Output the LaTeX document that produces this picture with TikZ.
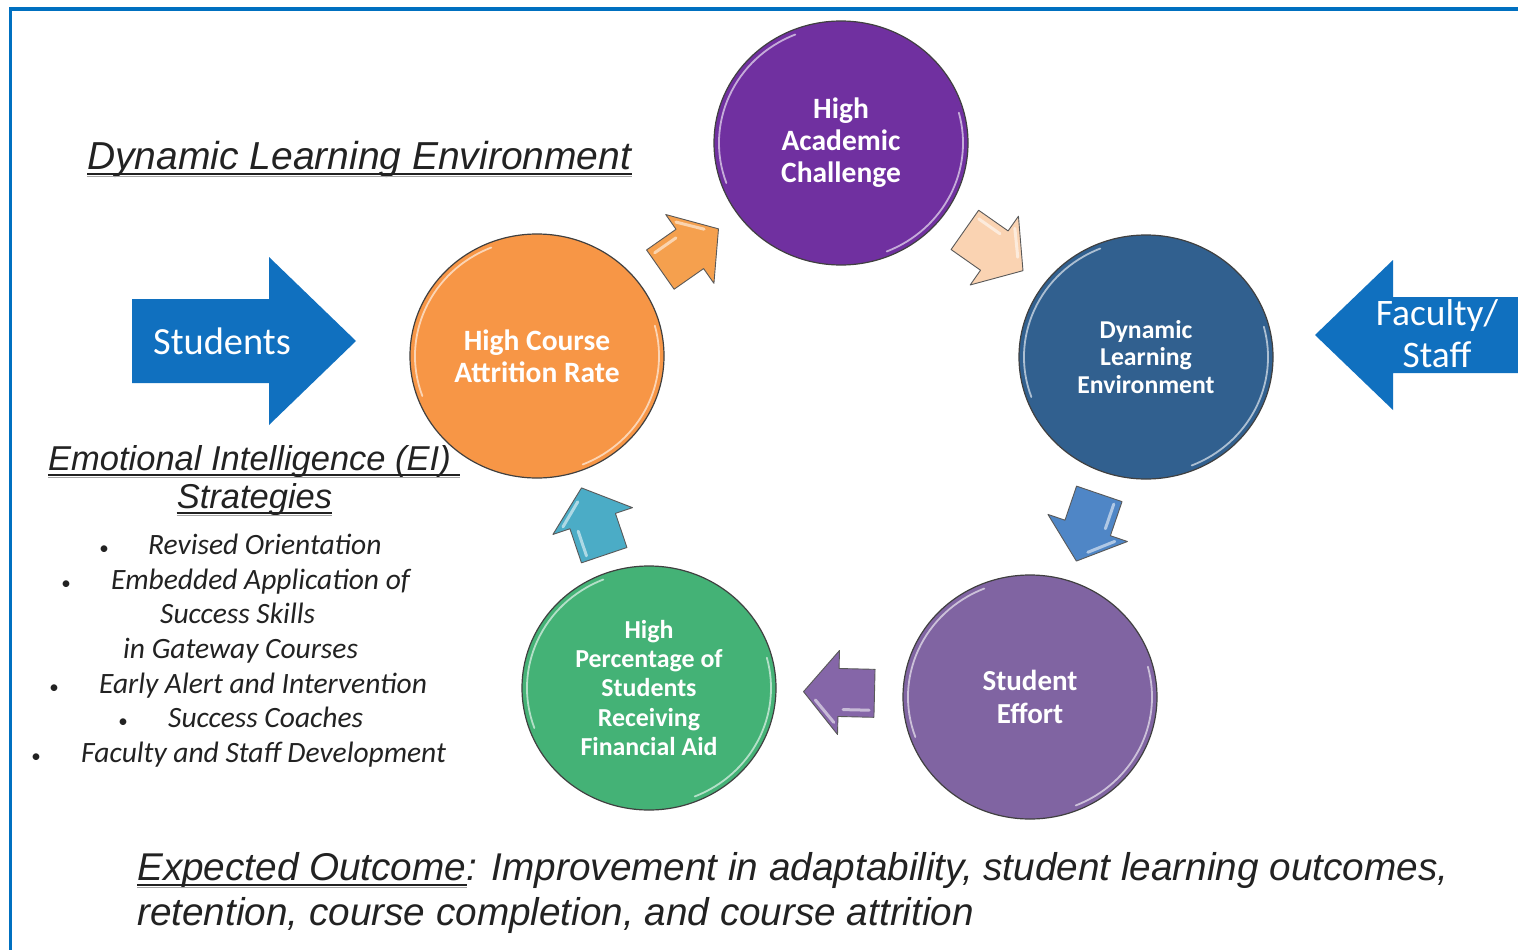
\documentclass[tikz,border=0pt]{standalone}
\usepackage{fontspec}
\usetikzlibrary{calc,shapes.geometric}
\newfontfamily\calfont{Carlito}
\newfontfamily\arialfont{Liberation Sans}

\definecolor{frameblue}{HTML}{0070C0}
\definecolor{bigblue}{HTML}{1070BF}
\definecolor{cpurple}{HTML}{7030A0}
\definecolor{corange}{HTML}{F79646}
\definecolor{cnavy}{HTML}{31608F}
\definecolor{cviolet}{HTML}{8064A2}
\definecolor{cgreen}{HTML}{44B276}
\definecolor{aorange}{HTML}{F5A04E}
\definecolor{apeach}{HTML}{FAD3B2}
\definecolor{ablue}{HTML}{4F86C6}
\definecolor{aviolet}{HTML}{8566A8}
\definecolor{ateal}{HTML}{4BACC6}
\definecolor{inkgray}{HTML}{222222}

\tikzset{
  bubble/.style={ellipse, minimum width=254, minimum height=244, inner sep=0,
    draw=black!75, line width=1.2pt, text=white, align=center,
    font=\calfont\bfseries\fontsize{29.5}{32}\selectfont},
  rim/.style={draw=white, opacity=0.6, line width=1.8pt, line cap=round},
  blockarrow/.style={draw=black!65, line width=0.9pt, line join=round},
  arrowgloss/.style={draw=white, opacity=0.55, line width=3pt, line cap=round},
  bigtext/.style={text=white, inner sep=0, align=center,
    font=\calfont\fontsize{38.4}{42}\selectfont},
  headtext/.style={text=inkgray, inner sep=0, anchor=base west},
  listtext/.style={text=inkgray, inner sep=0, anchor=base west,
    font=\calfont\itshape\fontsize{29.5}{34}\selectfont},
  bullet/.style={text=inkgray, inner sep=0, anchor=base,
    font=\calfont\fontsize{19}{22}\selectfont},
  uline/.style={draw=inkgray, line width=1.3pt},
  ushadow/.style={draw=black!35, line width=1.6pt},
}

% block arrow placed halfway between two nodes, pointing from the first to the second
\newcommand\cyclearrow[4]{%
  \pgfmathanglebetweenpoints{\pgfpointanchor{#2}{center}}{\pgfpointanchor{#3}{center}}%
  \let\cyclearrowangle\pgfmathresult
  \coordinate (#1) at ($(#2)!0.5!(#3)$);
  \begin{scope}[shift={(#1)}, rotate=\cyclearrowangle]
    \draw[blockarrow, fill=#4] (-35,-24) -- (1,-24) -- (1,-42) -- (36,0)
      -- (1,42) -- (1,24) -- (-35,24) -- cycle;
    \draw[arrowgloss] (-30,-17) -- (-4,-17);
    \draw[arrowgloss] (5,-30) -- (24,-8);
  \end{scope}
}

% bevel highlight inside a bubble
\newcommand\rim[1]{%
  \draw[rim] ($(#1)+(200:122pt and 117pt)$) arc[start angle=200, end angle=112, x radius=122pt, y radius=117pt];
  \draw[rim] ($(#1)+(-68:122pt and 117pt)$) arc[start angle=-68, end angle=15, x radius=122pt, y radius=117pt];
}

% underline below a text node, with its soft shadow
\newcommand\headrule[2]{%
  \draw[ushadow] ([yshift=-7.5pt]#1) -- ([yshift=-7.5pt]#2);
  \draw[uline] ([yshift=-5pt]#1) -- ([yshift=-5pt]#2);
}

\begin{document}
\begin{tikzpicture}[x=1pt, y=-1pt]
\useasboundingbox (0,0) rectangle (1518,950);
\fill[white] (0,0) rectangle (1518,950);

% frame
\draw[frameblue, line width=3.5pt] (10.5,950) -- (10.5,9) -- (1518,9);

% the cycle
\node[bubble, fill=cpurple] (hac) at (841,143) {High\\Academic\\Challenge};
\node[bubble, fill=corange] (hca) at (537,356) {High Course\\Attrition Rate};
\node[bubble, fill=cnavy, font=\calfont\bfseries\fontsize{25.7}{27.5}\selectfont]
  (dle) at (1146,357) {Dynamic\\Learning\\Environment};
\node[bubble, fill=cviolet, font=\calfont\bfseries\fontsize{29}{33}\selectfont]
  (se) at (1030,697) {Student\\Effort};
\node[bubble, fill=cgreen, font=\calfont\bfseries\fontsize{25.9}{29.2}\selectfont]
  (hpf) at (649,688) {High\\Percentage of\\Students\\Receiving\\Financial Aid};

\rim{hac}\rim{hca}\rim{dle}\rim{se}\rim{hpf}

\cyclearrow{a1}{hca}{hac}{aorange}
\cyclearrow{a2}{hac}{dle}{apeach}
\cyclearrow{a3}{dle}{se}{ablue}
\cyclearrow{a4}{se}{hpf}{aviolet}
\cyclearrow{a5}{hpf}{hca}{ateal}

% input arrows
\fill[bigblue] (132,299) -- (269,299) -- (269,257) -- (356,341) -- (269,425)
  -- (269,383) -- (132,383) -- cycle;
\node[bigtext] (stu) at (222,341) {Students};

\fill[bigblue] (1518,297) -- (1393,297) -- (1393,260) -- (1315,335) -- (1393,410)
  -- (1393,373) -- (1518,373) -- cycle;
\node[bigtext, font=\calfont\fontsize{37.4}{42}\selectfont] (fac) at (1437,334) {Faculty/\\Staff};

% headings
\node[headtext, font=\arialfont\itshape\fontsize{39}{45}\selectfont] (dlt) at (87,169)
  {Dynamic Learning Environment};
\headrule{dlt.base west}{dlt.base east}

\node[headtext, font=\arialfont\itshape\fontsize{34.5}{38}\selectfont] (eit) at (48,470)
  {Emotional Intelligence (EI)};
\coordinate (eiend) at (460,470);
\headrule{eit.base west}{eiend}
\node[headtext, anchor=base, font=\arialfont\itshape\fontsize{34.5}{38}\selectfont] (str) at (254.5,508)
  {Strategies};
\headrule{str.base west}{str.base east}

% strategy list
\node[bullet] (b1) at (104,554.5) {•};
\node[listtext] (l1) at (148,554.5) {Revised Orientation};
\node[bullet] (b2) at (66,589.5) {•};
\node[listtext] (l2) at (111,589.5) {Embedded Application of};
\node[listtext] (l3) at (160,623.5) {Success Skills};
\node[listtext] (l4) at (123,658.5) {in Gateway Courses};
\node[bullet] (b5) at (54,693.5) {•};
\node[listtext] (l5) at (99,693.5) {Early Alert and Intervention};
\node[bullet] (b6) at (123,727.5) {•};
\node[listtext] (l6) at (168,727.5) {Success Coaches};
\node[bullet] (b7) at (36,762.5) {•};
\node[listtext] (l7) at (81,762.5) {Faculty and Staff Development};

% outcome
\node[headtext, font=\arialfont\itshape\fontsize{38.7}{45}\selectfont] (exp) at (137,880)
  {Expected Outcome};
\headrule{exp.base west}{exp.base east}
\node[headtext, font=\arialfont\itshape\fontsize{38.7}{45}\selectfont] (imp) at (exp.base east)
  {: Improvement in adaptability, student learning outcomes,};
\node[headtext, font=\arialfont\itshape\fontsize{38.7}{45}\selectfont] (ret) at (137,925)
  {retention, course completion, and course attrition};
\end{tikzpicture}
\end{document}
